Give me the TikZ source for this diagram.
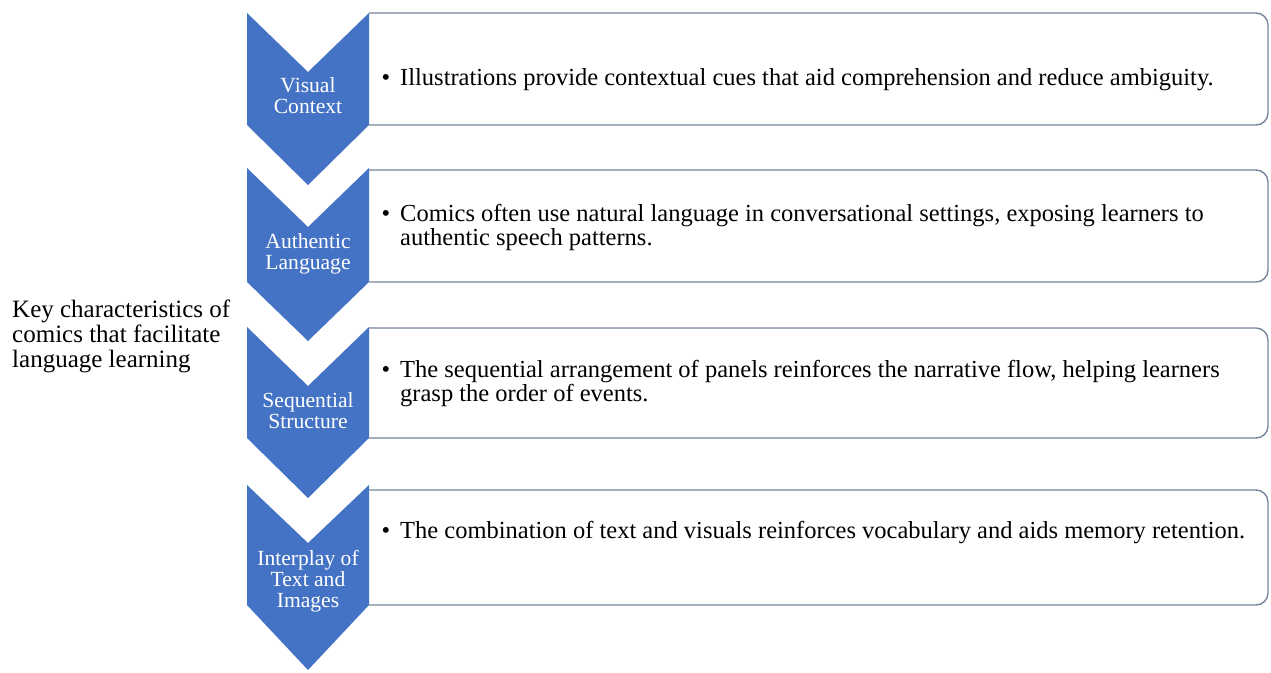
\documentclass[tikz,border=0pt]{standalone}
\usepackage{fontspec}
\setmainfont{Liberation Serif}

\definecolor{chevblue}{RGB}{68,114,196}
\definecolor{panelline}{RGB}{118,134,158}
\newcommand{\bulmark}{\llap{\textbullet\hspace{10pt}}}

\tikzset{
  chevron/.style={fill=chevblue},
  chevtext/.style={text=white, align=center, inner sep=0pt, font=\fontsize{21.6}{21}\selectfont},
  panel/.style={draw=panelline, line width=1.4pt, fill=white, rounded corners=12pt},
  paneltext/.style={anchor=base west, align=left, inner sep=0pt, font=\fontsize{24.5}{23.4}\selectfont},
}

\begin{document}
\begin{tikzpicture}[x=1pt, y=-1pt]
  \useasboundingbox (0,0) rectangle (1271,672);

  % panels first, the chevrons cover their left side
  \draw[panel] (369,13) -- (1268,13) -- (1268,125) -- (369,125);
  \draw[panel] (369,170) -- (1268,170) -- (1268,282) -- (369,282);
  \draw[panel] (369,328) -- (1268,328) -- (1268,438) -- (369,438);
  \draw[panel] (369,490) -- (1268,490) -- (1268,605) -- (369,605);

  % chevrons
  \fill[chevron] (247,13) -- (308,72) -- (369,13) -- (369,125) -- (308,185) -- (247,125) -- cycle;
  \fill[chevron] (247,168) -- (308,227) -- (369,168) -- (369,282) -- (308,341) -- (247,282) -- cycle;
  \fill[chevron] (247,327) -- (308,386) -- (369,327) -- (369,438) -- (308,498) -- (247,438) -- cycle;
  \fill[chevron] (247,485) -- (308,543) -- (369,485) -- (369,605) -- (308,670) -- (247,605) -- cycle;

  \node[chevtext] (vis) at (308,96) {Visual\\Context};
  \node[chevtext] (auth) at (308,254) {Authentic\\Language};
  \node[chevtext] (seq) at (308,411) {Sequential\\Structure};
  \node[chevtext] (inter) at (308,581) {Interplay of\\Text and\\Images};

  % base = baseline of the last line
  \node[paneltext] (visT) at (400,85)
    {\bulmark Illustrations provide contextual cues that aid comprehension and reduce ambiguity.};
  \node[paneltext] (authT) at (400,245)
    {\bulmark Comics often use natural language in conversational settings, exposing learners to\\authentic speech patterns.};
  \node[paneltext] (seqT) at (400,401)
    {\bulmark The sequential arrangement of panels reinforces the narrative flow, helping learners\\grasp the order of events.};
  \node[paneltext] (interT) at (400,538)
    {\bulmark The combination of text and visuals reinforces vocabulary and aids memory retention.};

  \node[anchor=base west, align=left, inner sep=0pt, font=\fontsize{25}{25}\selectfont] (key) at (12,367)
    {Key characteristics of\\comics that facilitate\\language learning};
\end{tikzpicture}
\end{document}
